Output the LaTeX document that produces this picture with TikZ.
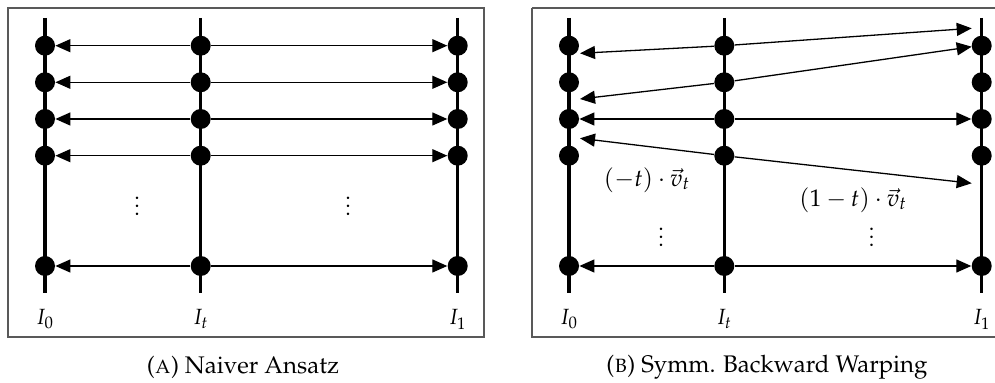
\documentclass[tikz,border=0pt]{standalone}
\usepackage[T1]{fontenc}
\usepackage{mathpazo}
\usetikzlibrary{arrows.meta}
\begin{document}
\begin{tikzpicture}[x=0.5pt,y=-0.5pt,
  dot/.style={circle,fill=black,inner sep=0pt,minimum size=10pt},
  axis/.style={line width=1.6pt},
  warp/.style={line width=0.65pt,-{Triangle[length=7.5pt,width=6.5pt]}},
  frame/.style={draw=black!65,line width=0.6pt},
  lbl/.style={anchor=base,inner sep=0pt,font=\fontsize{11}{13}\selectfont},
  txt/.style={inner sep=0pt,font=\fontsize{11}{13}\selectfont},
  mlbl/.style={inner sep=0pt,font=\fontsize{12}{14}\selectfont},
  captext/.style={inner sep=0pt,font=\fontsize{12}{14}\selectfont},
]
\clip (0,0) rectangle (995,383);
% ---------- panel A ----------
\draw[frame] (8,8) rectangle (484,337);
\foreach \n/\x in {0/45,t/200.7,1/457.7}{
  \coordinate (aT\n) at (\x,18);
  \coordinate (aB\n) at (\x,293);
  \draw[axis] (aT\n) -- (aB\n);
}
\foreach \r/\y in {1/45.7,2/82.3,3/119,4/155.7,5/266}{
  \node[dot] (a0\r) at (45,\y) {};
  \node[dot] (at\r) at (200.7,\y) {};
  \node[dot] (a1\r) at (457.7,\y) {};
  \draw[warp] (at\r) -- (a0\r);
  \draw[warp] (at\r) -- (a1\r);
}
\node[txt] (avd1) at (137,200) {$\vdots$};
\node[txt] (avd2) at (348,200) {$\vdots$};
\node[lbl] (aI0) at (45,325) {$I_0$};
\node[lbl] (aIt) at (200.7,325) {$I_t$};
\node[lbl] (aI1) at (457.7,325) {$I_1$};
\node[captext] (capA) at (243,367) {(\textsc{a}) Naiver Ansatz};
% ---------- panel B ----------
\draw[frame] (532,8) -- (532,337) -- (1000,337);
\draw[frame] (532,8) -- (1000,8);
\foreach \n/\x in {0/569,t/724.3,1/981.7}{
  \coordinate (bT\n) at (\x,18);
  \coordinate (bB\n) at (\x,293);
  \draw[axis] (bT\n) -- (bB\n);
}
\foreach \r/\y in {1/45.7,2/82.3,3/119,4/155.7,5/266}{
  \node[dot] (b0\r) at (569,\y) {};
  \node[dot] (bt\r) at (724.3,\y) {};
  \node[dot] (b1\r) at (981.7,\y) {};
}
\coordinate (bl1) at (580,53.3);
\coordinate (br1) at (971.7,28.3);
\coordinate (bl2) at (580,99);
\coordinate (br2) at (971.7,46.7);
\coordinate (bl4) at (580,138.3);
\coordinate (br4) at (971.7,183.3);
\draw[warp] (bt1) -- (bl1);
\draw[warp] (bt1) -- (br1);
\draw[warp] (bt2) -- (bl2);
\draw[warp] (bt2) -- (br2);
\draw[warp] (bt3) -- (b03);
\draw[warp] (bt3) -- (b13);
\draw[warp] (bt4) -- (bl4);
\draw[warp] (bt4) -- (br4);
\draw[warp] (bt5) -- (b05);
\draw[warp] (bt5) -- (b15);
\node[mlbl] (lblm) at (647,180) {$(-t)\cdot\vec{v}_t$};
\node[mlbl] (lblp) at (853,200) {$(1-t)\cdot\vec{v}_t$};
\node[txt] (bvd1) at (661,231) {$\vdots$};
\node[txt] (bvd2) at (871.7,231) {$\vdots$};
\node[lbl] (bI0) at (569,325) {$I_0$};
\node[lbl] (bIt) at (724.3,325) {$I_t$};
\node[lbl] (bI1) at (981.7,325) {$I_1$};
\node[captext] (capB) at (767,367) {(\textsc{b}) Symm. Backward Warping};
\end{tikzpicture}
\end{document}
